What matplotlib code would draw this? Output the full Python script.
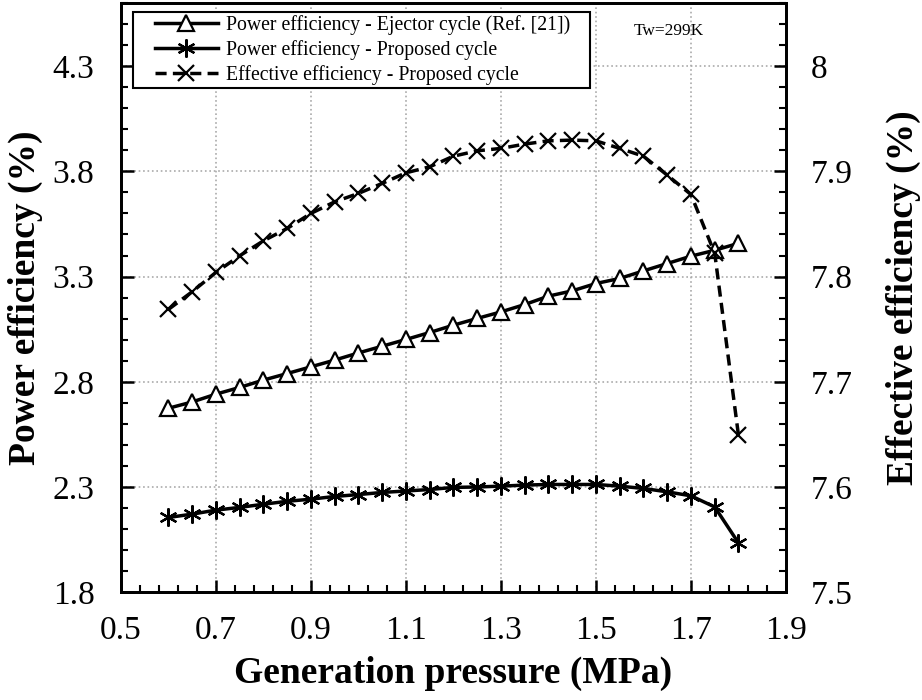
import matplotlib.pyplot as plt
from matplotlib.lines import Line2D
from matplotlib.legend_handler import HandlerLine2D
import numpy as np

# Data
pressure = [0.6, 0.65, 0.7, 0.75, 0.8, 0.85, 0.9, 0.95, 1.0, 1.05, 1.1, 1.15, 1.2,
            1.25, 1.3, 1.35, 1.4, 1.45, 1.5, 1.55, 1.6, 1.65, 1.7, 1.75, 1.8]
power_ejector = [2.674, 2.704, 2.741, 2.773, 2.808, 2.839, 2.871, 2.903, 2.937, 2.969,
                 3.001, 3.034, 3.069, 3.101, 3.132, 3.167, 3.207, 3.232, 3.267, 3.291,
                 3.327, 3.362, 3.397, 3.425, 3.458]
power_proposed = [2.155, 2.171, 2.190, 2.203, 2.218, 2.232, 2.242, 2.255, 2.264, 2.274,
                  2.281, 2.288, 2.298, 2.300, 2.304, 2.309, 2.312, 2.312, 2.312, 2.304,
                  2.293, 2.277, 2.258, 2.205, 2.034]
eff_proposed = [7.7687, 7.7855, 7.8039, 7.8197, 7.8339, 7.8457, 7.860, 7.871, 7.879,
                7.8885, 7.8986, 7.9043, 7.9144, 7.9195, 7.9218, 7.9259, 7.929, 7.9297,
                7.929, 7.9218, 7.9144, 7.8964, 7.878, 7.822, 7.649]

left_ticks = [1.8, 2.3, 2.8, 3.3, 3.8, 4.3]
right_ticks = [7.5, 7.6, 7.7, 7.8, 7.9, 8.0]
x_ticks = [0.5, 0.7, 0.9, 1.1, 1.3, 1.5, 1.7, 1.9]

plt.rcParams['font.family'] = ['Liberation Serif', 'DejaVu Serif']

fig = plt.figure(figsize=(9.22, 7), dpi=100)
ax = fig.add_axes([0.131, 0.154, 0.7215, 0.8417])
ax2 = ax.twinx()

asterisk = (6, 2, 0)

l1, = ax.plot(pressure, power_ejector, color='black', lw=2.5, marker='^', ms=12,
              mfc='white', mec='black', mew=1.6,
              label='Power efficiency - Ejector cycle (Ref. [21])')
l2, = ax.plot(pressure, power_proposed, color='black', lw=2.5, marker=asterisk, ms=13,
              mew=1.6, label='Power efficiency - Proposed cycle')
l3, = ax2.plot(pressure, eff_proposed, color='black', lw=2.5, ls=(0, (3.2, 1.8)),
               marker='x', ms=12, mew=1.6,
               label='Effective efficiency - Proposed cycle')

ax.set_xlim(0.5, 1.9)
ax.set_ylim(1.8, 4.6)
ax2.set_ylim(7.5, 8.06)

ax.set_xticks(x_ticks)
ax.set_xticklabels([f"{v:g}" for v in x_ticks])
ax.set_xticks(np.arange(0.5, 1.9001, 0.04), minor=True)
ax.set_yticks(left_ticks)
ax.set_yticklabels([f"{v:g}" for v in left_ticks])
ax.set_yticks(np.arange(1.8, 4.6001, 0.1), minor=True)
ax2.set_yticks(right_ticks)
ax2.set_yticklabels([f"{v:g}" for v in right_ticks])
ax2.set_yticks(np.arange(7.5, 8.0601, 0.02), minor=True)

for a in (ax, ax2):
    a.tick_params(which='major', direction='in', length=9, width=1.8, labelsize=24)
    a.tick_params(which='minor', direction='in', length=5, width=1.5)
    for s in a.spines.values():
        s.set_linewidth(2)
ax.tick_params(axis='x', pad=17)
ax.tick_params(axis='y', pad=19)
ax2.tick_params(axis='y', pad=18)

ax.grid(True, which='major', ls=':', color='#aaaaaa', lw=1.2)

ax.set_xlabel('Generation pressure (MPa)', fontsize=27, fontweight='bold', labelpad=7)
ax.set_ylabel('Power efficiency (%)', fontsize=27, fontweight='bold', labelpad=7)
ax2.set_ylabel('Effective efficiency (%)', fontsize=27, fontweight='bold', labelpad=24)

leg = ax2.legend(handles=[l1, l2, l3], loc='upper left',
                 bbox_to_anchor=(0.018, 0.88, 0.687, 0.104), mode='expand',
                 borderaxespad=0, fontsize=14.2, fancybox=False, framealpha=1,
                 edgecolor='black', handlelength=4.15, handletextpad=0.45,
                 labelspacing=0.25, borderpad=0.15,
                 handler_map={Line2D: HandlerLine2D(xpad=0.97)})
leg.get_frame().set_linewidth(1.5)

ax2.text(0.771, 0.953, 'Tw=299K', transform=ax2.transAxes, fontsize=12.5,
         va='center', ha='left')

fig.savefig('out.png', dpi=100)
